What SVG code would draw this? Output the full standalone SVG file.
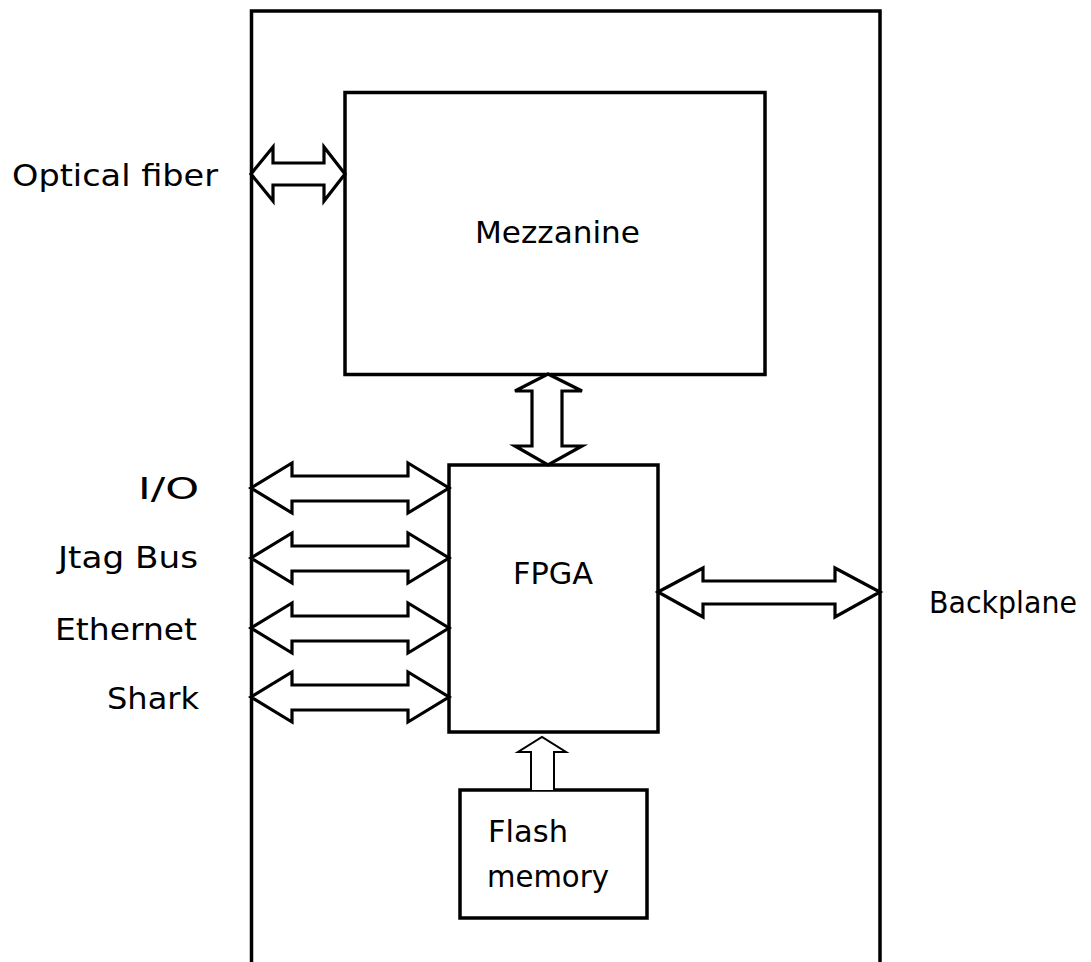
<svg xmlns="http://www.w3.org/2000/svg" width="1091" height="962" viewBox="0 0 1091 962">
<style>
.box{fill:#fff;stroke:#000;stroke-width:3.5}
.frame{fill:none;stroke:#000;stroke-width:3.5}
.arr{fill:#fff;stroke:#000;stroke-width:3.2;stroke-linejoin:miter}
.arr2{fill:#fff;stroke:#000;stroke-width:2;stroke-linejoin:miter}
.t{font-family:"DejaVu Sans","Liberation Sans",sans-serif;font-size:31px;fill:#000}
</style>
<rect width="1091" height="962" fill="#fff"/>
<g id="board">
<path class="frame" d="M251.5,962 V11 H880 V962"/>
</g>
<g id="mezzanine">
<rect class="box" x="345" y="92.5" width="420" height="282"/>
<text class="t" x="475" y="243" textLength="165" lengthAdjust="spacingAndGlyphs">Mezzanine</text>
</g>
<g id="fpga">
<rect class="box" x="449" y="465" width="209" height="267"/>
<text class="t" x="513" y="584" textLength="80" lengthAdjust="spacingAndGlyphs">FPGA</text>
</g>
<g id="flash">
<rect class="box" x="460" y="790" width="187" height="128"/>
<text class="t" x="488" y="842" textLength="80" lengthAdjust="spacingAndGlyphs">Flash</text>
<text class="t" x="487" y="887" textLength="122" lengthAdjust="spacingAndGlyphs">memory</text>
</g>
<g id="labels">
<text class="t" x="12" y="186" textLength="206" lengthAdjust="spacingAndGlyphs">Optical fiber</text>
<text class="t" x="138" y="499" textLength="61" lengthAdjust="spacingAndGlyphs">I/O</text>
<text class="t" x="58" y="568" textLength="140" lengthAdjust="spacingAndGlyphs">Jtag Bus</text>
<text class="t" x="55" y="640" textLength="142" lengthAdjust="spacingAndGlyphs">Ethernet</text>
<text class="t" x="107" y="709" textLength="92" lengthAdjust="spacingAndGlyphs">Shark</text>
<text class="t" x="929" y="613" textLength="148" lengthAdjust="spacingAndGlyphs">Backplane</text>
</g>
<g id="connectors">
<polygon class="arr" points="251,174 273,147 273,163 324,163 324,147 345,174 324,201 324,185 273,185 273,201"/>
<polygon class="arr" points="548,374 582,391 562,391 562,446 582,446 548,465 515,446 532,446 532,391 515,391"/>
<polygon class="arr" points="251,488 292,463 292,476 408,476 408,463 449,488 408,513 408,501 292,501 292,513"/>
<polygon class="arr" points="251,558 292,533 292,546 408,546 408,533 449,558 408,583 408,571 292,571 292,583"/>
<polygon class="arr" points="251,628 292,603 292,616 408,616 408,603 449,628 408,653 408,641 292,641 292,653"/>
<polygon class="arr" points="251,697 292,672 292,685 408,685 408,672 449,697 408,722 408,710 292,710 292,722"/>
<polygon class="arr" points="658,592 703,568 703,581 835,581 835,568 880,592 835,617 835,604 703,604 703,617"/>
<polyline class="arr2" points="531,790 531,752 518,752 542,737 566,752 554,752 554,790"/>
</g>
</svg>
